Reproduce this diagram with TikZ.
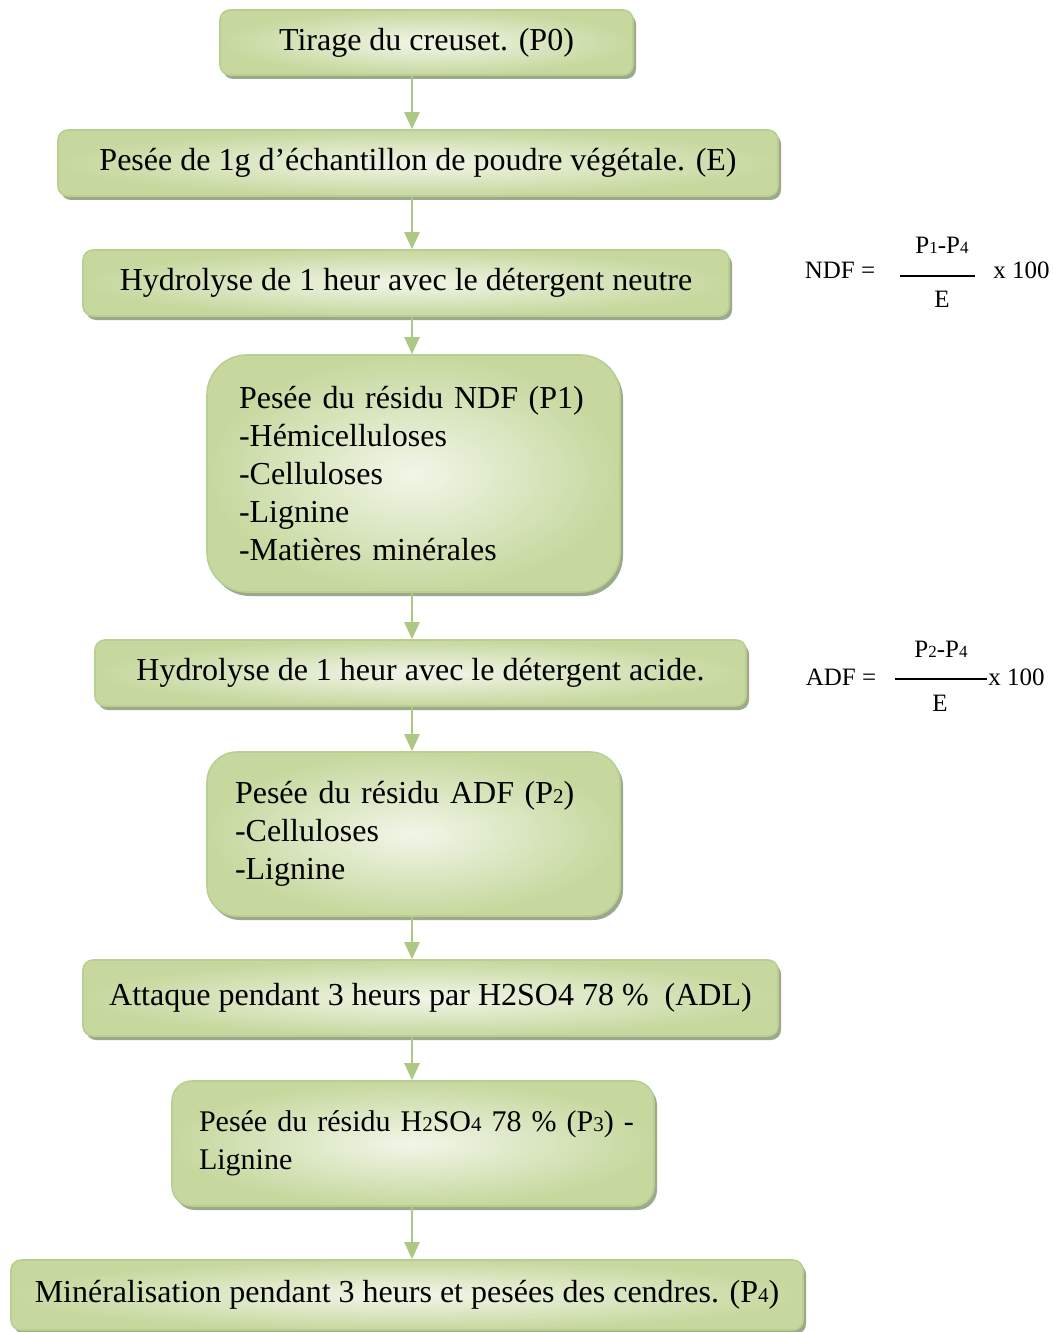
\documentclass[tikz,border=0pt]{standalone}
\usepackage{fontspec}
\setmainfont{Liberation Serif}
\usetikzlibrary{arrows.meta,shadows}

\definecolor{vertclair}{RGB}{241,246,232}
\definecolor{vertfonce}{RGB}{198,216,158}
\definecolor{vertbord}{RGB}{184,207,146}
\definecolor{vertombre}{RGB}{148,160,128}
\definecolor{vertfleche}{RGB}{172,200,132}

% petits chiffres des indices
\newcommand{\indice}[1]{{\fontsize{10.5}{10.5}\selectfont #1}}
\newcommand{\indf}[1]{{\fontsize{8.5}{8.5}\selectfont #1}}

\begin{document}
\begin{tikzpicture}[x=0.5pt, y=-0.5pt,
    etape/.style={draw=vertbord, line width=0.8pt, rounded corners=5pt,
      inner color=vertclair, outer color=vertfonce,
      drop shadow={shadow xshift=1.5pt, shadow yshift=-2pt, fill=vertombre, opacity=0.9},
      font=\fontsize{16}{19}\selectfont, minimum height=33pt},
    residu/.style={etape, align=left, inner ysep=0pt},
    fleche/.style={draw=vertfleche, line width=1.2pt, -{Triangle[width=7.5pt,length=8.5pt]}},
    formule/.style={font=\fontsize{12.5}{14}\selectfont, inner sep=0pt}]
  \useasboundingbox (0,0) rectangle (1053,1332);

  \node[etape, minimum width=206.5pt, minimum height=32.5pt] (t0) at (426.5,42.5) {Tirage du creuset. (P0)};
  \node[etape, minimum width=360pt] (ech) at (418,163) {Pesée de 1g d’échantillon de poudre végétale. (E)};
  \node[etape, minimum width=323pt] (hneutre) at (406,283) {Hydrolyse de 1 heur avec le détergent neutre};
  \node[residu, rounded corners=20pt, minimum width=206.5pt, minimum height=118.5pt,
        text width=174.5pt] (r1) at (413.5,473.5)
    {Pesée du résidu NDF (P1)\\-Hémicelluloses\\-Celluloses\\-Lignine\\-Matières minérales};
  \node[etape, minimum width=325.5pt] (hacide) at (420.5,673) {Hydrolyse de 1 heur avec le détergent acide.};
  \node[residu, rounded corners=15pt, minimum width=206.5pt, minimum height=82pt,
        text width=178.5pt] (r2) at (413.5,834)
    {\makebox[177.5pt][s]{Pesée du résidu ADF (P\indice{2})}\\-Celluloses\\-Lignine\\[2pt]};
  \node[etape, minimum width=347.5pt, minimum height=38pt] (adl) at (430.5,998) {Attaque pendant 3 heurs par H2SO4 78 \%\ \ (ADL)};
  \node[residu, rounded corners=10pt, minimum width=241pt, minimum height=62.5pt,
        text width=214pt, font=\fontsize{15}{19}\selectfont] (r3) at (413,1143.5)
    {\makebox[214pt][l]{Pesée du résidu H\indice{2}SO\indice{4} 78 \% (P\indice{3}) -}\\Lignine\\[6pt]};
  \node[etape, minimum width=396pt, minimum height=35pt] (cendres) at (407,1295) {Minéralisation pendant 3 heurs et pesées des cendres. (P\indice{4})};

  % axe des fleches
  \coordinate (axe) at (412,0);
  \draw[fleche] (t0.south -| axe) -- (ech.north -| axe);
  \draw[fleche] (ech.south -| axe) -- (hneutre.north -| axe);
  \draw[fleche] (hneutre.south -| axe) -- (r1.north -| axe);
  \draw[fleche] (r1.south -| axe) -- (hacide.north -| axe);
  \draw[fleche] (hacide.south -| axe) -- (r2.north -| axe);
  \draw[fleche] (r2.south -| axe) -- (adl.north -| axe);
  \draw[fleche] (adl.south -| axe) -- (r3.north -| axe);
  \draw[fleche] (r3.south -| axe) -- (cendres.north -| axe);

  % formules
  \node[formule] (ndf) at (840,270) {NDF =};
  \node[formule] (ndfnum) at (942,245) {P\indf{1}-P\indf{4}};
  \node[formule] (ndfden) at (942,299) {E};
  \node[formule, anchor=west] (ndfx) at (993,270) {x 100};
  \coordinate (ndfg) at (900,276);
  \coordinate (ndfd) at (975,276);
  \draw[line width=0.6pt] (ndfg) -- (ndfd);

  \node[formule] (adf) at (841,677) {ADF =};
  \node[formule] (adfnum) at (941,649) {P\indf{2}-P\indf{4}};
  \node[formule] (adfden) at (940,703) {E};
  \node[formule, anchor=west] (adfx) at (988,677) {x 100};
  \coordinate (adfg) at (895,679);
  \coordinate (adfd) at (987,679);
  \draw[line width=0.6pt] (adfg) -- (adfd);
\end{tikzpicture}
\end{document}
